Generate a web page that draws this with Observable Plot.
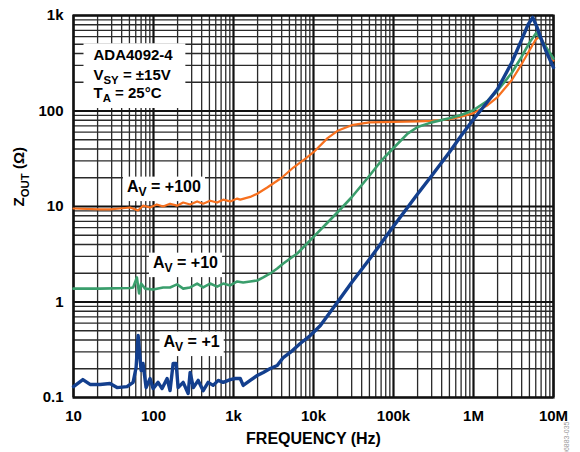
<!DOCTYPE html>
<html><head><meta charset="utf-8">
<script src="https://cdn.jsdelivr.net/npm/d3@7"></script>
<script src="https://cdn.jsdelivr.net/npm/@observablehq/plot@0.6"></script>
<style>body{margin:0;background:#fff;} #chart svg{display:block}</style>
</head><body><div id="chart"></div>
<script>
const xTicks = [10, 100, 1e3, 1e4, 1e5, 1e6, 1e7];
const xTickLabels = ["10", "100", "1k", "10k", "100k", "1M", "10M"];
const yTicks = [0.1, 1, 10, 100, 1000];
const yTickLabels = ["0.1", "1", "10", "100", "1k"];

// A_V = +1 (blue)
const freqAv1 = [10, 13.1, 16.1, 21.5, 28.6, 35, 46.7, 55.6, 60.6, 64.2, 70, 74, 80.8, 90.6, 98.8, 114, 128, 148, 161, 176, 192, 203, 235, 271, 287, 315, 362, 418, 482, 557, 644, 743, 910, 1050, 1214, 1322, 1617, 1980, 2355, 2880, 3520, 4190, 5120, 6830, 9110, 12200, 20000, 30000, 50000, 100000, 200000, 300000, 500000, 700000, 1000000, 1500000, 2000000, 3000000, 4000000, 4800000, 5500000, 6200000, 6900000, 8000000, 10000000];
const zAv1 = [0.13, 0.154, 0.137, 0.137, 0.140, 0.127, 0.130, 0.144, 0.206, 0.446, 0.192, 0.227, 0.127, 0.158, 0.124, 0.144, 0.124, 0.158, 0.118, 0.227, 0.227, 0.127, 0.144, 0.110, 0.183, 0.127, 0.151, 0.118, 0.144, 0.134, 0.151, 0.144, 0.154, 0.158, 0.158, 0.134, 0.151, 0.170, 0.183, 0.201, 0.216, 0.262, 0.296, 0.368, 0.446, 0.567, 1.0, 1.6, 2.8, 6.2, 13.5, 21, 37, 55, 82, 125, 170, 320, 560, 800, 955, 760, 590, 430, 285];

// A_V = +10 (green)
const freqAv10 = [10, 21.5, 51, 55.6, 62, 66, 70, 78.6, 98.8, 132, 161, 197, 235, 287, 351, 418, 510, 624, 743, 910, 1112, 1322, 1617, 1980, 2355, 2880, 3520, 4190, 5120, 6260, 6830, 10000, 15000, 20000, 30000, 50000, 70000, 100000, 150000, 200000, 300000, 500000, 700000, 1000000, 1500000, 2000000, 3000000, 4000000, 5000000, 6100000, 7000000, 8000000, 10000000];
const zAv10 = [1.38, 1.38, 1.40, 1.42, 1.81, 1.23, 1.56, 1.38, 1.35, 1.42, 1.42, 1.53, 1.38, 1.42, 1.56, 1.42, 1.56, 1.45, 1.56, 1.49, 1.64, 1.60, 1.64, 1.68, 1.81, 1.99, 2.24, 2.53, 2.85, 3.22, 3.46, 4.8, 6.8, 8.7, 12.5, 21, 30, 41, 58, 68, 76, 84, 91, 102, 128, 164, 250, 370, 520, 660, 560, 470, 354];

// A_V = +100 (orange)
const freqAv100 = [10, 21.5, 28.6, 38, 51, 64, 74, 90.6, 110, 132, 161, 197, 235, 287, 351, 418, 510, 624, 743, 910, 1112, 1215, 1617, 1980, 2640, 4000, 5600, 8000, 10000, 15000, 20000, 30000, 50000, 100000, 200000, 300000, 500000, 700000, 1000000, 1500000, 2000000, 3000000, 4000000, 5000000, 6000000, 6700000, 7500000, 8500000, 10000000];
const zAv100 = [9.53, 9.31, 9.31, 9.53, 9.76, 9.09, 10.2, 9.76, 10.5, 10.0, 10.7, 10.2, 11.0, 10.5, 11.3, 10.7, 11.5, 11.0, 11.8, 11.3, 12.1, 11.8, 12.6, 13.6, 15.8, 20, 25.6, 32, 37, 52, 62, 71, 76, 77, 78, 79, 82, 87, 95, 115, 140, 210, 310, 430, 560, 600, 520, 430, 338];

// curve labels (text, frequency, impedance)
const labelTexts = ["A_{V} = +100", "A_{V} = +10", "A_{V} = +1"];
const labelFreqs = [135, 251, 299];
const labelZs = [16.2, 2.59, 0.386];

const infoLines = ["ADA4092-4", "V_{SY} = ±15V", "T_{A} = 25°C"];

const toRows = (fs, zs) => fs.map((f, i) => ({f, z: zs[i]}));
const rowsAv1 = toRows(freqAv1, zAv1);
const rowsAv10 = toRows(freqAv10, zAv10);
const rowsAv100 = toRows(freqAv100, zAv100);
const labelRows = labelTexts.map((t, i) => ({t, f: labelFreqs[i], z: labelZs[i]}));

const isMajor = (list) => (d) => list.some(t => Math.abs(t - d) / t < 1e-9);
const minorX = d3.scaleLog().domain([10, 1e7]).ticks().filter(d => !isMajor(xTicks)(d));
const minorY = d3.scaleLog().domain([0.1, 1000]).ticks().filter(d => !isMajor(yTicks)(d));
const xLab = new Map(xTicks.map((d, i) => [d, xTickLabels[i]]));
const yLab = new Map(yTicks.map((d, i) => [d, yTickLabels[i]]));

const chart = Plot.plot({
  width: 580, height: 452,
  marginLeft: 73, marginRight: 27, marginTop: 15, marginBottom: 55,
  x: {type: "log", domain: [10, 1e7]},
  y: {type: "log", domain: [0.1, 1000]},
  style: {fontFamily: "'Liberation Sans', Arial, sans-serif", fontSize: "15px", fontWeight: "bold", background: "white", color: "black"},
  marks: [
    Plot.gridX(minorX, {stroke: "#2a2a2a", strokeOpacity: 1, strokeWidth: 1.3}),
    Plot.gridY(minorY, {stroke: "#2a2a2a", strokeOpacity: 1, strokeWidth: 1.3}),
    Plot.gridX(xTicks, {stroke: "#111", strokeOpacity: 1, strokeWidth: 2.2}),
    Plot.gridY(yTicks, {stroke: "#111", strokeOpacity: 1, strokeWidth: 2.2}),
    Plot.frame({stroke: "#111", strokeWidth: 2.2}),
    Plot.axisX(xTicks, {tickFormat: d => xLab.get(d), tickSize: 0, tickPadding: 13, label: null, fontSize: 15, fontWeight: "bold"}),
    Plot.axisY(yTicks, {tickFormat: d => yLab.get(d), tickSize: 0, tickPadding: 10, label: null, fontSize: 15, fontWeight: "bold"}),
    Plot.text(["FREQUENCY (Hz)"], {frameAnchor: "bottom", dy: 41, lineAnchor: "middle", fontSize: 16, fontWeight: "bold"}),
    Plot.text(["Z_{OUT} (Ω)"], {frameAnchor: "left", dx: -54, rotate: -90, lineAnchor: "middle", fontSize: 15, fontWeight: "bold"}),
    Plot.text(["06883-035"], {frameAnchor: "bottom-right", dx: 15, dy: 24, rotate: -90, fontSize: 7, fontWeight: "normal", fill: "#999"}),
    Plot.text([infoLines[0]], {frameAnchor: "top-left", dx: 20, dy: 40, lineAnchor: "middle", textAnchor: "start", fontSize: 15, fontWeight: "bold"}),
    Plot.text([infoLines[1]], {frameAnchor: "top-left", dx: 20, dy: 59.5, lineAnchor: "middle", textAnchor: "start", fontSize: 15, fontWeight: "bold"}),
    Plot.text([infoLines[2]], {frameAnchor: "top-left", dx: 20, dy: 77.5, lineAnchor: "middle", textAnchor: "start", fontSize: 15, fontWeight: "bold"}),
    Plot.text(labelRows, {x: "f", y: "z", text: "t", lineAnchor: "middle", textAnchor: "middle", fontSize: 16, fontWeight: "bold"}),
    Plot.line(rowsAv100, {x: "f", y: "z", stroke: "#f7701e", strokeWidth: 2.2}),
    Plot.line(rowsAv10, {x: "f", y: "z", stroke: "#3a9e6c", strokeWidth: 2.6}),
    Plot.line(rowsAv1, {x: "f", y: "z", stroke: "#133f8e", strokeWidth: 3.4})
  ]
});
document.getElementById("chart").append(chart);

// find annotation texts by content (before subscript rewriting)
const allTexts = Array.from(chart.querySelectorAll("text"));
const infoTexts = allTexts.filter(t => infoLines.includes(t.textContent));
const labelEls = allTexts.filter(t => labelTexts.includes(t.textContent));

// subscripts
allTexts.forEach(function(el) {
  const t = el.textContent;
  if (!t.includes("_{")) return;
  const fs = parseFloat(getComputedStyle(el).fontSize) || 15;
  const parts = t.split(/(_\{[^}]*\})/).filter(s => s);
  const sel = d3.select(el);
  sel.text(null);
  const shift = fs * 0.28;
  let shifted = false;
  for (const p of parts) {
    const m = p.match(/^_\{(.*)\}$/);
    const ts = sel.append("tspan");
    if (m) { ts.text(m[1]).attr("font-size", fs * 0.76).attr("dy", shift); shifted = true; }
    else { ts.text(p); if (shifted) { ts.attr("dy", -shift); shifted = false; } }
  }
});

// white boxes behind annotations
function addBox(texts, padL, padR, padT, padB) {
  const svgRect = chart.getBoundingClientRect();
  let x0 = Infinity, y0 = Infinity, x1 = -Infinity, y1 = -Infinity;
  texts.forEach(t => {
    const r = t.getBoundingClientRect();
    x0 = Math.min(x0, r.left); y0 = Math.min(y0, r.top);
    x1 = Math.max(x1, r.right); y1 = Math.max(y1, r.bottom);
  });
  let before = texts[0];
  while (before.parentNode && before.parentNode !== chart) before = before.parentNode;
  const rect = document.createElementNS("http://www.w3.org/2000/svg", "rect");
  rect.setAttribute("x", x0 - svgRect.left - padL);
  rect.setAttribute("y", y0 - svgRect.top - padT);
  rect.setAttribute("width", x1 - x0 + padL + padR);
  rect.setAttribute("height", y1 - y0 + padT + padB);
  rect.setAttribute("fill", "white");
  chart.insertBefore(rect, before);
}
if (infoTexts.length) addBox(infoTexts, 10, 12, 3, 4);
labelEls.forEach(t => addBox([t], 4, 4, 1, 2));
</script>
</body></html>
